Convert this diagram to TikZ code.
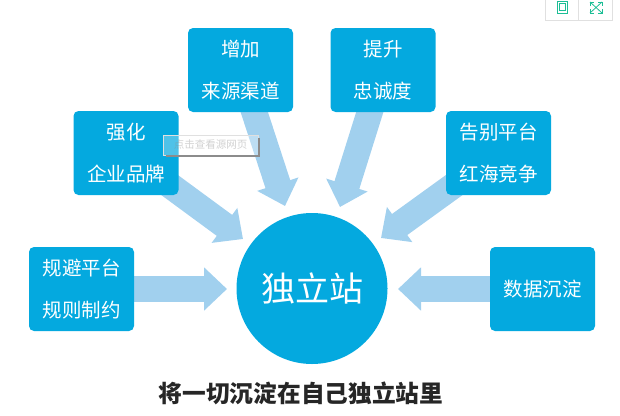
\documentclass[tikz,border=0pt]{standalone}
\usepackage{fontspec}
\setmainfont{Noto Sans CJK SC}
\usetikzlibrary{arrows.meta, backgrounds, positioning}
\definecolor{boxblue}{HTML}{04A9DF}
\definecolor{arrowblue}{HTML}{A1D0EE}
\definecolor{iconmint}{HTML}{1DBE96}
\tikzset{
  infobox/.style={fill=boxblue, rounded corners=5pt, minimum width=105pt, minimum height=84pt,
    align=center, text=white, font=\fontsize{19.5}{42}\selectfont, inner sep=0pt},
  flowarrow/.style={arrowblue, line width=26pt, -{Triangle[length=23pt, width=42pt]}},
  iconline/.style={iconmint, line width=.8pt},
  barline/.style={black!12, line width=.6pt}
}

\begin{document}
\begin{tikzpicture}[x=1pt, y=-1pt]
       \useasboundingbox (0, 0) rectangle (620, 415);
       \node[infobox] (guibi) at ( 81.5, 289)  {规避平台\\规则制约};
       \node[infobox] (qiangpin) at (126, 153)  {强化\\企业品牌};
       \node[infobox] (qudao) at (240.5, 70)  {增加\\来源渠道};
       \node[infobox] (zhongcheng) at (383, 70)  {提升\\忠诚度};
       \node[infobox] (honghai) at (498.5, 153)  {告别平台\\红海竞争};
       \node[infobox] (shuju) at (542.5, 289)  {数据沉淀};
       \node[circle, fill=boxblue, minimum size=151pt, inner sep=0pt, text=white,
             font=\fontsize{34}{40}\selectfont] (hub) at (312, 288.5)  {独立站};
       \node[font=\bfseries\fontsize{23.7}{26}\selectfont, text=black!85] (caption) at (301, 393)  {将一切沉淀在自己独立站里};

       \coordinate (tipa) at (227, 289);
       \coordinate (tipb) at (243, 239);
       \coordinate (tipc) at (285, 206);
       \coordinate (tipd) at (340, 207);
       \coordinate (tipe) at (381, 238);
       \coordinate (tipf) at (398, 289);

       \begin{scope}[on background layer]
         \draw[flowarrow] (guibi.center) -- (tipa);
         \draw[flowarrow] (qiangpin.center) -- (tipb);
         \draw[flowarrow] (qudao.center) -- (tipc);
         \draw[flowarrow] (zhongcheng.center) -- (tipd);
         \draw[flowarrow] (honghai.center) -- (tipe);
         \draw[flowarrow] (shuju.center) -- (tipf);
       \end{scope}

       % watermark
       \node[fill=white, fill opacity=.3, text opacity=.4, draw=black!12, text=black!45,
             minimum width=95pt, minimum height=20pt, inner sep=0pt,
             font=\fontsize{10.5}{12}\selectfont] (mark) at (210.5, 145)  {点击查看源网页};
       \draw[black!45, line width=1.4pt] ([xshift=3pt, yshift=-.7pt]mark.south west) -- ([xshift=.7pt, yshift=-.7pt]mark.south east) -- ([xshift=.7pt, yshift=-3pt]mark.north east);

       % toolbar
       \draw[barline] (545, 0) -- (545, 20) -- (612, 20) -- (612, 0);
       \draw[barline] (578, 0) -- (578, 20);
       \draw[iconline] (557, 1) rectangle (567, 13);
       \draw[iconline] (559, 3) rectangle (565, 10);
       \draw[iconline] (590, 2) -- (602, 13);
       \draw[iconline] (602, 2) -- (590, 13);
       \draw[iconline] (590, 6) -- (590, 2) -- (594, 2);
       \draw[iconline] (598, 2) -- (602, 2) -- (602, 6);
       \draw[iconline] (590, 9) -- (590, 13) -- (594, 13);
       \draw[iconline] (598, 13) -- (602, 13) -- (602, 9);
    \end{tikzpicture}
\end{document}
